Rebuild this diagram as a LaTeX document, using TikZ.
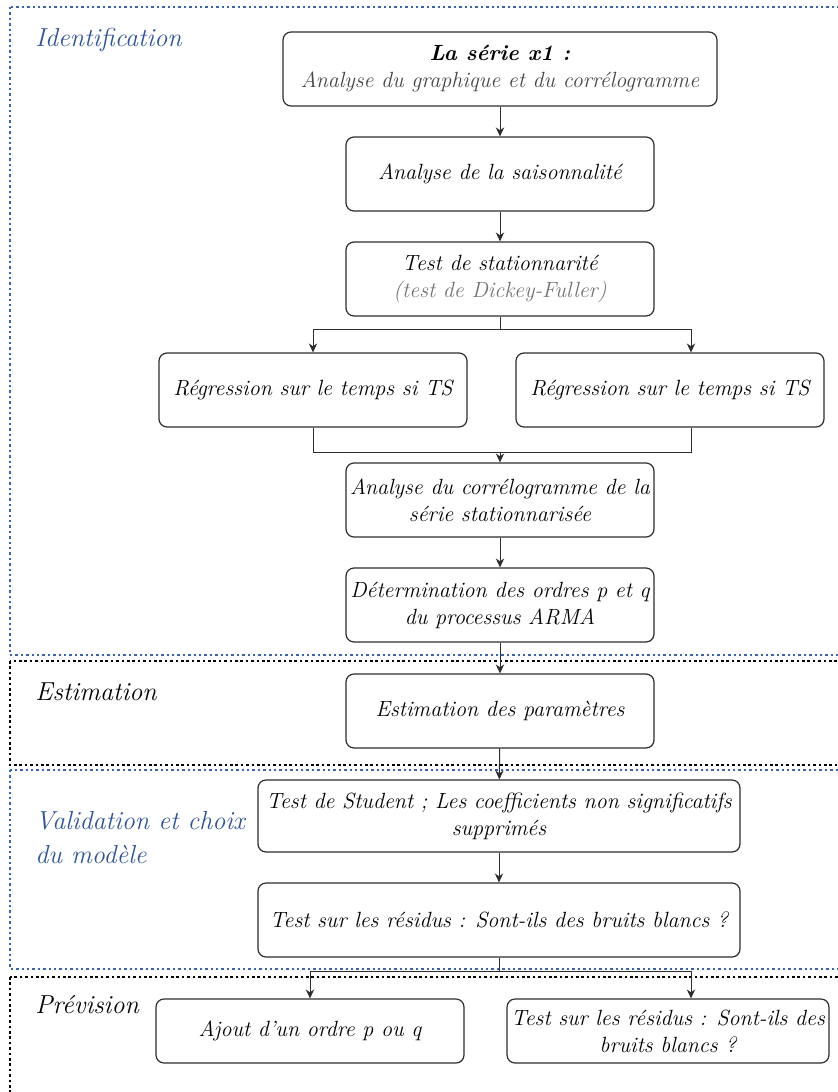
\documentclass[tikz,border=0pt]{standalone}
\usepackage{tikz}
\usetikzlibrary{calc,arrows.meta}
\definecolor{frameblue}{RGB}{60,100,170}
\definecolor{labelblue}{RGB}{47,84,150}
\definecolor{boxline}{RGB}{45,45,45}
\definecolor{softgray}{RGB}{115,115,115}
\definecolor{darkgray}{RGB}{70,70,70}

\begin{document}
\begin{tikzpicture}[
  x=0.5pt, y=-0.5pt,
  stepbox/.style={draw=boxline, line width=0.6pt, rounded corners=4pt, minimum width=154pt,
                  minimum height=37pt, align=center, inner sep=2pt,
                  font=\fontsize{11}{13.5}\selectfont\itshape},
  arrow/.style={->, >={Stealth[length=4.5pt, width=4.2pt]}, line width=0.5pt, draw=boxline},
  link/.style={line width=0.5pt, draw=boxline},
  bluezone/.style={draw=frameblue, line width=0.9pt, dash pattern=on 1.2pt off 1.5pt},
  blackzone/.style={draw=black, line width=1.4pt, dash pattern=on 1.3pt off 1.4pt},
  phase/.style={anchor=west, inner sep=0pt, align=left,
                font=\fontsize{13}{17}\selectfont\itshape}
]
  \useasboundingbox (0,0) rectangle (837,1092);

  % Zones
  \draw[bluezone] (10,7) rectangle (900,655);
  \draw[blackzone] (10,661) rectangle (900,765);
  \draw[bluezone] (10,770) rectangle (900,969);
  \draw[blackzone] (10,977) rectangle (900,1130);

  % Zone labels
  \node[phase, text=labelblue] (identlbl) at (35,40) {Identification};
  \node[phase] (estimlbl) at (35,692) {Estimation};
  \node[phase, text=labelblue] (validlbl) at (35,838) {Validation et choix\\du modèle};
  \node[phase] (prevlbl) at (35,1005) {Prévision};

  % Identification
  \node[stepbox, minimum width=217pt] (serie) at (500,69)
    {\textbf{La série x1 :}\\\textcolor{darkgray}{Analyse du graphique et du corrélogramme}};
  \node[stepbox] (saison) at (500,174) {Analyse de la saisonnalité};
  \node[stepbox] (station) at (500,279)
    {Test de stationnarité\\\textcolor{softgray}{(test de Dickey-Fuller)}};
  \node[stepbox] (regL) at (313,390) {Régression sur le temps si TS};
  \node[stepbox] (regR) at (670,390) {Régression sur le temps si TS};
  \node[stepbox] (correlo) at (500,500) {Analyse du corrélogramme de la\\série stationnarisée};
  \node[stepbox] (ordres) at (500,605) {Détermination des ordres p et q\\du processus ARMA};

  % Estimation
  \node[stepbox] (estim) at (500,711) {Estimation des paramètres};

  % Validation
  \node[stepbox, minimum width=241pt, minimum height=36pt] (student) at (499,816)
    {Test de Student ; Les coefficients non significatifs\\supprimés};
  \node[stepbox, minimum width=241pt] (residus) at (499,920)
    {Test sur les résidus : Sont-ils des bruits blancs ?};

  % Prevision
  \node[stepbox, minimum height=32pt] (ajout) at (310,1031) {Ajout d'un ordre p ou q};
  \node[stepbox, minimum height=32pt] (residusbis) at (668,1031)
    {Test sur les résidus : Sont-ils des\\bruits blancs ?};

  % Arrows
  \coordinate (rx) at (691,0);
  \coordinate (fork) at (500,329);
  \coordinate (join) at (500,452);
  \coordinate (split) at (499,971);

  \draw[arrow] (serie) -- (saison);
  \draw[arrow] (saison) -- (station);
  \draw[link] (station) -- (fork);
  \draw[arrow] (fork) -| (regL);
  \draw[arrow] (fork) -| (rx |- regR.north);
  \draw[link] (regL) |- (join);
  \draw[link] (rx |- regR.south) |- (join);
  \draw[arrow] (join) -- (correlo);
  \draw[arrow] (correlo) -- (ordres);
  \draw[arrow] (ordres) -- (estim);
  \draw[arrow] (estim) -- (student);
  \draw[arrow] (student) -- (residus);
  \draw[link] (residus) -- (split);
  \draw[arrow] (split) -| (ajout);
  \draw[arrow] (split) -| (rx |- residusbis.north);

\end{tikzpicture}
\end{document}
